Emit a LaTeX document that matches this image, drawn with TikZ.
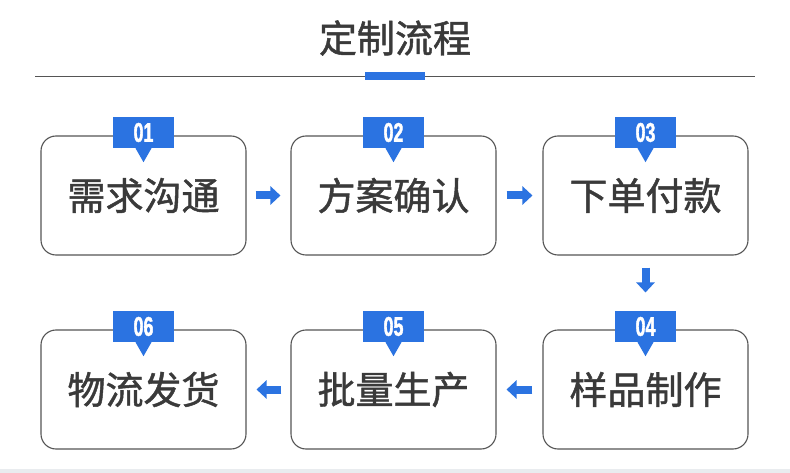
\documentclass[tikz,border=0pt]{standalone}
\usepackage{fontspec}
\setmainfont{Noto Sans CJK SC}
\newfontfamily\cjk[FakeBold=1.2]{Noto Sans CJK SC}
\newfontfamily\numfont[FakeStretch=0.66,FakeBold=1.5]{Liberation Sans Bold}
\usetikzlibrary{arrows.meta}
\definecolor{tagblue}{HTML}{2B73E1}
\definecolor{ink}{HTML}{3A3A3A}
\definecolor{frame}{HTML}{555555}
\definecolor{band}{HTML}{E9ECEF}
\tikzset{
  stepbox/.style={draw=frame, line width=1.1pt, rounded corners=15pt, minimum width=205pt, minimum height=119pt, inner sep=0pt, text=ink, font=\cjk\fontsize{38}{40}\selectfont},
  tagbox/.style={fill=tagblue, minimum width=61pt, minimum height=31pt, inner sep=0pt, text=white, font=\numfont\fontsize{27}{27}\selectfont},
  flow/.style={draw=tagblue, line width=8pt, -{Triangle[length=10pt,width=18pt]}},
}
\begin{document}
\begin{tikzpicture}[x=1pt,y=-1pt]
\useasboundingbox (0,0) rectangle (790,473);
\fill[white] (0,0) rectangle (790,473);
\fill[band] (0,469) rectangle (790,473);
% title
\node[text=ink, font=\cjk\fontsize{38}{40}\selectfont] (title) at (395,38) {定制流程};
\coordinate (ruleL) at (35,76);
\coordinate (ruleR) at (755,76);
\draw[frame, line width=0.9pt] (ruleL) -- (ruleR);
\node[fill=tagblue, minimum width=60pt, minimum height=8pt, inner sep=0pt] (bar) at (395,76) {};
% boxes
\node[stepbox] (b1) at (143.5,195.5) {需求沟通};
\node[stepbox] (b2) at (393.5,195.5) {方案确认};
\node[stepbox] (b3) at (645.5,195.5) {下单付款};
\node[stepbox] (b4) at (645.5,389.5) {样品制作};
\node[stepbox] (b5) at (393.5,389.5) {批量生产};
\node[stepbox] (b6) at (143.5,389.5) {物流发货};
% tags
\foreach \b/\n in {b1/01,b2/02,b3/03,b4/04,b5/05,b6/06}{
  \node[tagbox] (t\n) at ([yshift=63pt]\b.center) {\n};
  \fill[tagblue] ([xshift=-8pt]t\n.south) -- ([xshift=8pt]t\n.south) -- ([yshift=-14pt]t\n.south) -- cycle;
}
% connectors
\draw[flow, shorten <=9pt, shorten >=10pt] (b1) -- (b2);
\draw[flow, shorten <=10pt, shorten >=10pt] (b2) -- (b3);
\draw[flow, shorten <=12pt, shorten >=37pt] (b3) -- (b4);
\draw[flow, shorten <=10pt, shorten >=10pt] (b4) -- (b5);
\draw[flow, shorten <=9pt, shorten >=10pt] (b5) -- (b6);
\end{tikzpicture}
\end{document}
